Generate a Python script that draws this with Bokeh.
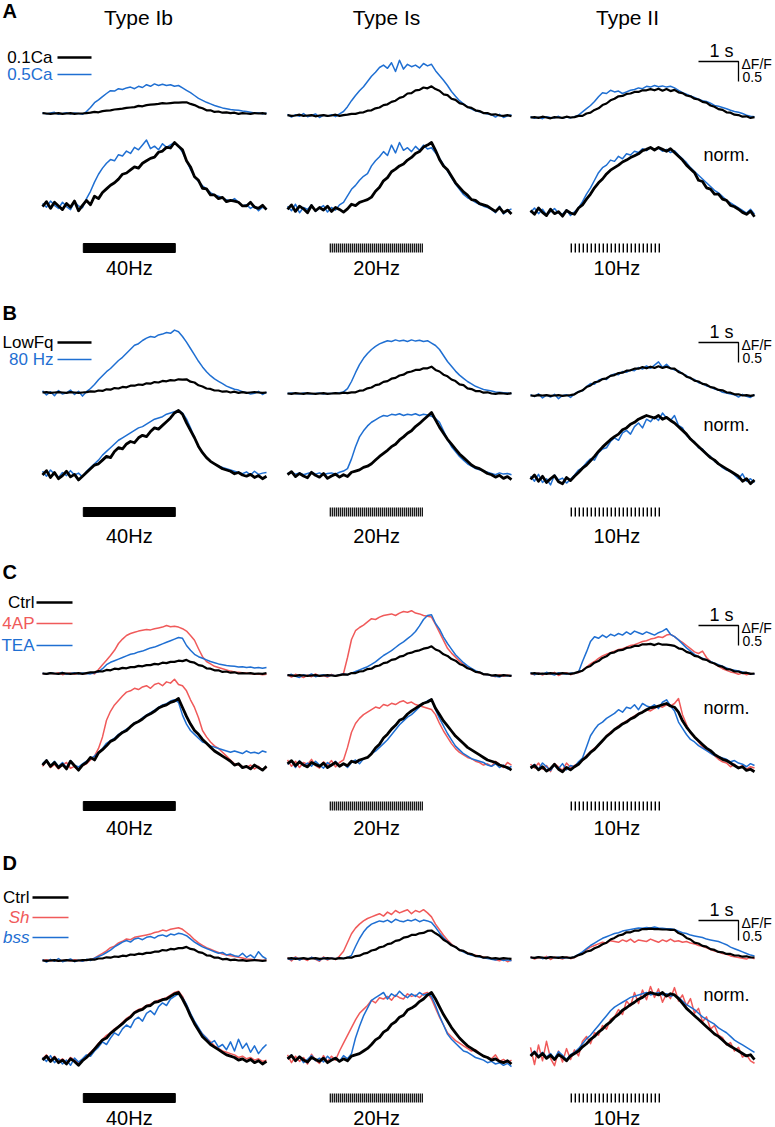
import numpy as np
from bokeh.plotting import figure
from bokeh.models import Range1d
from bokeh.core.properties import value
from bokeh.embed import file_html
from bokeh.resources import INLINE

# ------------------------------------------------------------------
# DATA  (samples every 0.1 s; raw rows in dF/F x100, norm rows in % of peak)
# ------------------------------------------------------------------
DT = 0.1
COL_NAMES = ["Type Ib", "Type Is", "Type II"]
COL_KEYS = ["Ib", "Is", "II"]
STIM_FREQ = [40, 20, 10]
STIM_LABELS = ["40Hz", "20Hz", "10Hz"]
STIM_START = [1.02, 1.07, 1.02]
STIM_DUR = [2.3, 2.32, 2.28]

A_conditions = ["0.1Ca", "0.5Ca"]
B_conditions = ["LowFq", "80 Hz"]
C_conditions = ["Ctrl", "4AP", "TEA"]
D_conditions = ["Ctrl", "Sh", "bss"]

# ---- Panel A ----
A_Ib_raw_blk = [1,0,-1,0,1,-1,0,1,-1,0,0, 1,2,4,3,6,7,8,10,11,12, 14,15,16,19,18,21,22,23,24,26, 25,26,27,27,28,28,24,21,16,13, 8,8,4,5,2,3,1,2,-1,1, 0,-1,1,0,1,-1]
A_Ib_raw_blu = [2,-1,1,3,-2,0,2,-1,1,0,-2, 5,15,27,34,42,50,57,56,62,60, 64,66,62,68,65,72,68,74,70,73, 70,72,68,70,64,58,52,45,38,33, 28,24,20,17,14,12,10,9,8,6, 5,3,1,2,-1,1]
A_Ib_nrm_blk = [-5,3,-8,2,-4,-10,0,-6,4,-12,-3, 5,-2,12,8,18,24,30,34,40,48, 50,55,60,58,66,70,74,76,84,86, 92,91,100,94,88,70,60,44,38,25, 24,14,14,8,10,3,5,4,2,-4, -4,2,-6,-8,-3,-10]
A_Ib_nrm_blu = [0,-6,4,-3,-8,2,-5,-10,3,-4,-7, 8,20,35,48,58,66,72,70,80,78, 86,82,92,88,96,104,90,94,88,98, 92,96,100,94,84,70,56,44,36,29, 24,18,14,12,9,6,4,8,2,-4, -2,-8,-4,-12,-6,-9]
A_Is_raw_blk = [1,-1,0,2,-1,0,1,-2,0,1,-1, 0,2,-1,1,2,4,4,7,8,12, 13,18,20,26,28,34,37,44,47,55, 56,63,64,70,68,73,66,62,53,51, 42,39,31,28,21,19,13,11,6,6, 2,3,0,-1,1,-2]
A_Is_raw_blu = [3,-4,2,-2,5,-3,0,4,-5,1,-2, 2,-3,4,10,22,37,50,62,72,85, 98,108,120,126,118,132,110,138,116,128, 122,126,119,130,124,128,112,100,88,75, 60,48,37,29,22,16,12,9,6,4, 2,-4,3,-5,-1,2]
A_Is_nrm_blk = [-3,4,-6,2,-2,-8,3,-5,0,-4,2, -6,0,-3,-7,-2,5,3,8,10,12, 16,25,31,41,46,55,59,64,67,73, 77,83,86,93,96,100,88,74,64,58, 48,38,31,24,19,12,11,6,4,2, -2,-6,0,-8,-4,-10]
A_Is_nrm_blu = [2,-5,5,-8,0,-3,4,-6,-1,3,-7, 0,-4,4,8,18,28,34,42,48,52, 64,72,78,86,80,96,84,100,88,92, 86,94,88,96,90,92,84,76,66,56, 46,36,28,20,15,12,8,5,2,0, -3,-8,2,-10,-5,-2]
A_II_raw_blk = [0,1,-1,2,0,-2,1,0,-1,2,0, 1,4,4,10,12,19,23,31,35,43, 47,53,54,59,60,64,64,68,68,71, 68,72,67,71,66,69,63,61,55,53, 47,45,39,37,30,27,21,19,13,12, 7,6,2,3,-1,1]
A_II_raw_blu = [2,-2,1,-3,2,0,-1,3,-2,1,-1, 2,6,14,22,30,40,52,62,60,68, 64,66,60,64,68,70,74,72,78,76, 80,77,79,76,78,74,68,62,58,54, 50,46,42,40,36,30,28,25,22,18, 15,13,10,6,3,2]
A_II_nrm_blk = [0,-6,4,-3,-8,2,-5,-2,-9,0,-4, -6,4,9,18,26,36,44,50,58,64, 68,72,77,80,84,87,90,95,97,100, 96,100,97,94,98,92,86,80,72,66, 60,48,46,36,34,26,26,18,16,8, 6,2,-3,-6,-1,-10]
A_II_nrm_blu = [-3,4,-5,2,-7,-2,3,-4,-6,1,-8, -2,4,14,26,36,48,60,68,72,80, 78,86,82,90,88,94,92,98,95,100, 96,99,94,97,92,95,88,82,76,68, 62,56,50,44,38,32,28,22,16,12, 8,4,0,-4,2,-6]

# ---- Panel B ----
B_Ib_raw_blk = [0,1,-1,0,1,0,-1,1,0,-1,0, 1,3,2,5,4,8,7,11,10,14, 13,17,17,20,19,23,22,26,25,29, 28,31,30,33,32,33,27,25,18,15, 10,9,5,5,2,3,0,2,-1,1, -1,0,1,0,-1,0]
B_Ib_raw_blu = [4,-6,2,-8,5,-4,-1,6,-5,3,-9, 2,10,20,32,42,52,60,70,80,88, 98,108,118,122,130,136,140,138,144,146, 150,148,156,152,140,126,110,94,78,64, 52,42,34,28,22,16,12,8,6,2, 0,-4,-2,3,-5,1]
B_Ib_nrm_blk = [-4,3,-8,0,-10,-5,2,-7,-3,-12,-6, 0,6,12,14,20,26,24,34,40,38, 46,50,48,56,60,58,66,72,70,76, 82,88,96,100,94,80,68,56,42,32, 24,18,14,10,6,4,2,-2,0,-4, -6,-3,-8,-5,-10,-6]
B_Ib_nrm_blu = [2,-6,4,-3,-8,0,-5,3,-4,-1,-7, 2,8,14,20,28,34,40,46,52,56, 60,64,68,72,74,78,82,86,88,90, 94,96,98,100,96,86,72,56,42,32, 24,18,14,10,8,6,4,2,0,-2, 1,-4,2,-3,-1,0]
B_Is_raw_blk = [0,-1,1,0,-1,1,0,-1,0,1,-1, 0,1,0,2,1,3,3,7,8,13, 15,21,23,29,31,37,39,45,47,53, 55,59,59,63,63,67,59,55,47,43, 35,31,23,21,13,11,6,6,2,3, 0,-1,1,0,-1,1]
B_Is_raw_blu = [0,1,0,-1,1,0,-1,0,1,-1,0, 0,1,2,4,12,30,52,72,88,100, 110,118,124,128,132,130,134,131,133,130, 134,131,133,130,132,126,120,110,95,80, 68,56,46,38,30,24,18,14,10,8, 6,4,3,2,1,0]
B_Is_nrm_blk = [-2,3,-5,0,-4,-7,2,-3,-6,0,-8, -4,-1,-6,-2,-5,2,4,6,10,12, 16,22,28,33,38,44,48,55,60,66, 70,77,82,88,94,100,88,76,66,56, 48,40,32,26,20,14,10,8,4,0, -2,-6,-3,-8,-5,-10]
B_Is_nrm_blu = [0,2,-1,1,-2,0,2,-1,1,-2,0, 1,-1,2,4,8,24,44,60,70,78, 84,88,92,95,94,97,96,98,95,97, 96,98,95,97,96,94,90,84,70,56, 44,36,28,22,16,12,8,6,4,2, 0,-2,1,-1,0,-2]
B_II_raw_blk = [0,-1,1,0,1,-1,0,1,-1,0,1, 3,9,13,21,25,33,35,41,43,49, 51,56,57,62,63,67,67,71,68,72, 69,73,69,72,68,67,59,55,47,44, 37,35,29,27,21,19,14,13,8,7, 3,3,0,1,-1,1]
B_II_raw_blu = [2,-3,4,-6,1,-4,3,-8,0,2,-5, 4,10,12,22,30,28,38,42,40,50, 54,52,60,58,64,62,70,66,74,68, 76,84,70,78,68,64,62,54,50,42, 40,32,30,24,22,16,14,8,6,4, 2,-4,3,-2,-5,2]
B_II_nrm_blk = [-3,4,-6,2,-8,-2,3,-7,-10,0,-5, 2,8,15,20,27,34,42,49,55,61, 66,70,77,80,86,89,94,97,100,98, 96,100,94,97,92,88,82,76,70,62, 56,50,44,38,32,28,22,18,14,10, 6,2,-6,-2,-10,-4]
B_II_nrm_blu = [2,-6,5,-8,-2,-12,4,-4,-1,-9,-3, 4,12,16,24,30,28,40,46,48,58, 64,60,72,76,70,82,88,80,94,90, 98,92,104,96,92,100,84,80,68,62, 58,48,46,38,34,26,22,16,12,10, 4,-2,6,-6,-2,-8]

# ---- Panel C ----
C_Ib_raw_blk = [0,-1,1,0,-1,1,0,-1,0,1,-1, 1,3,3,6,5,9,8,12,11,14, 13,16,16,19,18,21,21,24,23,27, 26,29,29,32,31,34,29,27,21,19, 13,12,8,8,4,5,2,3,0,1, 0,1,-1,0,-1,1]
C_Ib_raw_red = [0,-2,1,-1,2,-3,0,1,-2,1,-1, 0,2,-1,10,22,33,45,58,75,86, 95,100,103,106,108,110,109,112,114,116, 120,117,118,116,112,106,95,83,62,42, 30,24,18,15,12,9,6,4,3,2, 1,0,-2,-1,-3,-2]
C_Ib_raw_blu = [1,-2,2,0,-1,3,-2,0,2,-1,1, 0,-1,2,4,12,22,28,32,36,40, 44,48,50,54,56,60,64,66,70,74, 78,82,86,90,88,70,58,48,42,38, 34,30,27,24,22,20,19,18,16,17, 15,16,14,15,13,15]
C_Ib_nrm_blk = [-4,3,-6,0,-8,-3,-10,2,-5,-12,-4, 0,8,4,15,20,26,33,36,42,47, 50,56,61,64,68,73,76,80,85,88, 90,94,96,100,86,72,60,50,44,36, 30,24,18,14,10,6,2,-4,-2,-8, -6,-10,-4,-8,-12,-6]
C_Ib_nrm_red = [-6,2,-8,-3,-10,-4,0,-9,-6,-12,-5, -2,4,10,22,40,66,80,90,97,104, 110,112,116,114,118,120,116,122,124,120, 126,124,130,122,120,112,98,86,70,50, 40,32,26,22,16,10,4,-2,-4,-6, -8,-4,-10,-6,-12,-8]
C_Ib_nrm_blu = [-2,4,-5,2,-6,0,-8,3,-4,-7,-2, 2,6,10,16,22,30,34,38,44,48, 52,56,62,64,70,74,78,82,86,90, 92,96,98,94,74,60,50,44,38,32, 30,26,24,22,20,18,16,18,16,14, 18,15,16,14,18,16]
C_Is_raw_blk = [1,0,-1,1,0,-1,0,1,-1,0,1, 0,-1,1,3,2,6,6,10,11,16, 17,23,25,31,33,39,41,47,49,55, 57,61,63,67,69,73,65,61,53,49, 41,37,29,25,18,15,9,8,3,3, 0,1,-1,1,0,-1]
C_Is_raw_red = [2,-4,3,-1,-5,1,-3,4,-2,0,-4, 3,-2,1,5,45,90,112,120,126,134, 142,140,146,150,152,154,150,156,160,158, 162,156,154,150,148,146,128,108,88,68, 56,46,36,28,20,14,10,6,4,2, 0,-3,2,-2,1,-1]
C_Is_raw_blu = [0,3,-2,-5,2,-1,4,-3,0,2,-2, 1,-1,2,4,2,6,10,14,18,22, 28,34,42,50,56,62,70,78,84,92, 100,110,124,140,150,152,130,116,96,80, 66,52,42,32,24,18,12,8,4,2, 0,-2,-4,1,-1,0]
C_Is_nrm_blk = [-2,3,-5,1,-4,-7,0,-3,-6,-1,-8, -4,0,-6,-2,-5,2,0,4,6,8, 14,23,29,39,45,53,59,67,70,77, 82,86,90,94,96,100,86,76,66,58, 50,42,36,30,24,20,16,12,8,4, 2,0,-4,-6,-8,-12]
C_Is_nrm_red = [4,-6,2,-8,0,-3,5,-5,-9,1,-4, 3,-7,0,4,24,48,62,70,76,80, 84,88,86,92,90,94,92,96,98,94, 96,92,90,88,86,84,76,62,50,40, 30,22,16,12,8,6,2,0,-4,-2, -6,2,-3,-8,0,-4]
C_Is_nrm_blu = [-3,2,-8,3,-5,-1,-6,2,-4,-9,0, -5,2,-6,-2,-8,0,4,-2,6,8, 14,18,24,30,36,44,52,60,66,72, 76,82,88,94,98,100,84,70,58,46, 36,26,20,14,10,6,4,2,0,-4, -6,-2,-8,-4,-10,-6]
C_II_raw_blk = [0,1,-1,0,-1,1,0,-1,1,0,-1, 1,4,7,15,19,27,31,39,43,51, 53,58,59,64,65,69,69,73,73,74, 71,75,72,72,71,69,63,61,54,51, 44,42,36,34,28,25,19,17,11,10, 5,5,1,2,-1,0]
C_II_raw_red = [0,-3,2,-4,1,-2,3,-5,0,2,-3, 1,2,8,16,24,30,38,44,48,52, 56,60,62,66,70,72,76,80,82,86, 88,92,90,96,98,92,84,78,70,62, 54,50,56,40,30,24,18,12,8,4, 2,-2,1,-3,0,-1]
C_II_raw_blu = [2,-3,1,-2,3,-1,-4,2,0,-2,1, 0,4,30,54,80,92,88,96,90,98, 94,100,96,104,98,106,102,98,104,100, 96,102,106,112,98,92,84,74,64,56, 48,42,38,34,30,26,22,18,14,10, 8,6,4,2,0,-1]
C_II_nrm_blk = [-4,0,-7,-2,-9,-5,2,-6,-10,-3,-7, -2,2,9,14,21,26,33,40,47,52, 58,62,67,70,75,78,83,86,90,93, 94,96,98,100,96,94,86,72,62,54, 46,40,34,28,24,18,14,10,8,4, 0,-4,-2,-8,-6,-10]
C_II_nrm_red = [2,-4,4,-6,0,-10,3,-2,-8,4,-3, 0,4,8,16,22,28,32,40,48,54, 58,64,68,72,76,80,84,86,90,88, 92,96,94,98,96,100,108,82,66,52, 46,38,30,26,20,16,10,6,4,-2, 2,-4,0,-6,-2,-4]
C_II_nrm_blu = [-3,2,-6,4,-2,-8,1,-5,3,-7,0, -2,6,12,30,48,58,66,70,76,80, 84,90,86,94,92,98,90,100,96,94, 98,92,102,106,96,88,70,60,50,42, 38,32,28,24,20,16,14,12,10,6, 8,4,2,-2,3,0]

# ---- Panel D ----
D_Ib_raw_blk = [0,-1,0,1,-1,0,1,0,-1,0,1, 1,3,2,5,5,8,7,10,9,12, 11,15,14,17,16,19,19,22,22,26, 25,29,28,31,31,34,29,27,21,19, 13,12,7,7,3,4,1,2,0,1, -1,0,1,0,-1,0]
D_Ib_raw_red = [0,2,-1,1,-2,0,1,-1,2,0,-1, 1,2,6,12,18,24,32,36,44,48, 54,52,58,60,62,64,66,70,72,76, 74,78,80,82,78,70,62,52,44,38, 32,28,24,20,16,14,12,10,8,6, 4,3,2,1,0,1]
D_Ib_raw_blu = [2,-4,3,-2,5,-3,0,4,-3,1,-2, 3,0,6,10,14,20,26,34,40,46, 50,46,54,56,52,58,60,56,62,64, 60,66,64,68,66,62,54,46,40,34, 30,26,22,18,20,14,16,12,10,18, 8,14,6,22,10,4]
D_Ib_nrm_blk = [-4,2,-6,0,-8,-4,-10,-2,-6,-12,-5, 0,6,13,20,27,30,37,42,47,52, 58,62,69,72,74,79,80,85,86,89, 90,94,98,100,90,78,64,52,42,32, 26,20,16,12,8,4,2,0,-4,-2, -6,-3,-8,-5,-10,-6]
D_Ib_nrm_red = [-2,4,-4,2,-6,-2,-8,0,-4,-9,-3, 2,8,14,22,28,34,38,44,48,54, 60,64,70,74,76,80,82,86,88,90, 92,96,100,102,94,80,66,54,44,36, 30,24,18,14,10,8,6,4,0,2, -2,0,-4,-2,-6,-4]
D_Ib_nrm_blu = [0,-6,3,-8,-2,-10,-4,-12,-1,-7,-2, 4,2,10,16,24,20,30,38,34,44, 50,46,58,62,56,68,72,66,78,84, 80,90,94,98,92,82,68,56,46,36, 30,22,26,16,20,12,24,10,28,14, 22,8,18,6,14,20]
D_Is_raw_blk = [0,1,-1,0,1,-1,0,1,-1,0,1, 0,-1,1,0,2,2,6,7,12,14, 20,22,28,30,36,38,44,46,52,54, 59,59,63,64,69,70,63,57,47,41, 33,29,21,19,13,11,6,6,2,3, 0,1,-1,1,0,-1]
D_Is_raw_red = [2,-6,4,-3,0,-5,3,-2,-7,4,-4, 2,-3,6,18,40,62,76,86,94,100, 104,108,112,106,116,110,120,114,118,122, 112,120,116,122,114,104,86,72,58,46, 36,28,22,18,14,10,8,6,4,2, 0,-3,-6,-2,-8,-4]
D_Is_raw_blu = [0,-3,2,-4,1,-2,3,-1,-5,2,-2, 1,-1,2,0,3,8,30,50,66,78, 86,90,94,92,96,90,98,94,92,96, 94,98,92,96,94,90,78,64,52,42, 34,28,22,16,12,8,6,4,2,0, -2,-4,-1,-5,-3,-6]
D_Is_nrm_blk = [-2,3,-5,1,-4,-7,0,-3,-6,-1,-8, -4,-1,-6,-2,-5,2,4,6,10,14, 20,27,31,39,43,51,55,62,65,73, 76,80,86,90,96,100,90,78,66,56, 46,38,30,24,18,14,10,6,2,0, -4,-2,-6,-8,-5,-10]
D_Is_nrm_red = [4,-8,2,-6,0,-10,5,-4,-9,3,-6, 2,-4,10,22,34,46,58,68,74,80, 88,84,92,90,94,88,96,92,90,98, 94,96,92,98,100,90,76,62,50,38, 32,26,22,18,14,10,12,6,2,0, -2,4,-6,-3,-8,-4]
D_Is_nrm_blu = [-2,4,-6,2,-8,-3,3,-5,-1,-7,2, -4,0,-6,3,-2,6,30,48,64,76, 88,92,96,100,90,98,94,102,96,92, 98,94,100,96,98,94,80,64,50,36, 28,22,16,10,8,4,0,-2,-4,-8, -6,-10,-8,-12,-9,-14]
D_II_raw_blk = [0,-1,1,0,-2,1,0,-1,1,0,-1, 1,6,9,15,17,23,27,33,37,45, 49,55,57,63,63,67,67,71,71,72, 71,71,70,70,69,69,61,57,49,45, 37,35,29,27,21,19,14,13,9,9, 5,5,2,3,0,0]
D_II_raw_red = [2,-4,0,-2,3,-5,1,-1,-4,2,-3, 0,6,12,20,26,30,34,38,36,42, 40,38,44,40,46,38,44,42,40,46, 42,38,44,40,46,40,42,38,40,36, 34,30,28,24,20,16,14,10,8,4, 2,0,-2,-4,1,-3]
D_II_raw_blu = [1,-2,2,-3,0,2,-1,1,-2,0,-1, 2,8,14,22,30,36,42,48,52,56, 60,62,66,68,70,72,74,73,75,74, 76,74,73,72,72,70,66,62,60,56, 54,52,50,46,44,42,40,36,32,26, 22,18,14,10,6,4]
D_II_nrm_blk = [-4,2,-6,0,-8,-3,-10,-2,-6,-12,-4, 0,4,11,16,23,28,35,40,47,52, 59,64,71,75,80,84,89,92,97,100, 98,96,100,94,98,96,90,82,74,68, 62,56,50,44,38,32,28,22,16,12, 8,4,0,-4,-2,-10]
D_II_nrm_red = [10,-18,14,-12,20,-8,-20,4,-14,8,-10, 6,-4,20,28,16,34,30,46,40,56, 60,72,64,86,78,100,82,104,88,110, 92,106,84,98,90,108,86,96,78,90, 66,74,52,60,40,46,30,26,14,18, 4,10,-6,-2,-12,-16]
D_II_nrm_blu = [-2,4,-4,2,-6,0,-8,3,-3,-10,-2, 2,8,16,24,30,38,46,54,62,70, 76,80,84,88,92,94,96,98,100,96, 98,100,96,98,94,96,92,86,80,76, 72,66,60,56,52,48,42,38,34,28, 22,18,14,10,6,2]

# ------------------------------------------------------------------
# LAYOUT / STYLE
# ------------------------------------------------------------------
FONT = "Liberation Sans"
BLK, BLU, RED = "#000000", "#1f6fd2", "#f05a5a"
COLOR = {"blk": BLK, "blu": BLU, "red": RED}
PX_PER_S = 40.0      # 1 s scale bar
PX_PER_DFF = 40.0    # 0.5 dF/F = 20 px
X0 = [42, 287, 530]

GEOM = {
    "A": dict(letter=10, leg=[57, 74], leg_tx=52, leg_ln=(57, 91), raw=[113, 115, 117],
              nrm=[(203, 61), (207, 65), (210, 63)], stim=(243, 252), lab=267, bar=61, norm=154,
              conds=A_conditions, codes=["blk", "blu"]),
    "B": dict(letter=312, leg=[342, 359], leg_tx=53, leg_ln=(57, 91), raw=[392, 393, 395],
              nrm=[(472, 62), (473, 61), (477, 62)], stim=(507, 516), lab=535, bar=342, norm=424,
              conds=B_conditions, codes=["blk", "blu"]),
    "C": dict(letter=571, leg=[602, 623, 645], leg_tx=34, leg_ln=(36, 72), raw=[673, 675, 673],
              nrm=[(762, 64), (762, 63), (765, 62)], stim=(801, 810), lab=827, bar=625, norm=707,
              conds=C_conditions, codes=["blk", "red", "blu"]),
    "D": dict(letter=862, leg=[897, 917, 937], leg_tx=29, leg_ln=(32, 68), raw=[960, 958, 957],
              nrm=[(1057, 65), (1057, 65), (1053, 61)], stim=(1093, 1102), lab=1117, bar=920, norm=994,
              conds=D_conditions, codes=["blk", "red", "blu"]),
}

p = figure(width=775, height=1127, x_range=Range1d(0, 775), y_range=Range1d(1127, 0),
           x_axis_type=None, y_axis_type=None, toolbar_location=None, output_backend="svg",
           min_border=0, outline_line_color=None, background_fill_color="white",
           border_fill_color="white")


def txt(x, y, s, size, color=BLK, align="left", style="normal"):
    p.text(x=[x], y=[y], text=[s], text_font=value(FONT), text_font_size=value(f"{size}px"),
           text_color=color, text_align=align, text_baseline="middle", text_font_style=style)


for ci, name in enumerate(COL_NAMES):
    txt([138, 386, 627][ci], 17, name, 21, align="center")

for P, g in GEOM.items():
    txt(2, g["letter"], P, 20, style="bold")
    # legend
    for k, (cname, code) in enumerate(zip(g["conds"], g["codes"])):
        y = g["leg"][k]
        style = "italic" if cname in ("Sh", "bss") else "normal"
        txt(g["leg_tx"], y, cname, 17, COLOR[code], align="right", style=style)
        p.line(list(g["leg_ln"]), [y, y], line_color=COLOR[code],
               line_width=2.5 if code == "blk" else 1.5)
    draw_order = [c for c in g["codes"] if c != "blk"] + ["blk"]
    for ci, ck in enumerate(COL_KEYS):
        for row in ("raw", "nrm"):
            if row == "raw":
                base, scale = g["raw"][ci], PX_PER_DFF
            else:
                base, scale = g["nrm"][ci]
            for code in draw_order:
                vals = np.array(globals()[f"{P}_{ck}_{row}_{code}"], dtype=float) / 100.0
                tt = np.arange(len(vals)) * DT
                lw = (2.2 if row == "raw" else 2.8) if code == "blk" else 1.5
                p.line(X0[ci] + tt * PX_PER_S, base - vals * scale, line_color=COLOR[code],
                       line_width=lw, line_join="round")
        # stimulus
        y0, y1 = g["stim"]
        s0 = X0[ci] + STIM_START[ci] * PX_PER_S
        f = STIM_FREQ[ci]
        if f >= 40:
            p.quad(left=[s0], right=[s0 + STIM_DUR[ci] * PX_PER_S], top=[y0], bottom=[y1],
                   fill_color=BLK, line_color=BLK)
        else:
            ts = STIM_START[ci] + np.arange(int(STIM_DUR[ci] * f) + 1) / f
            xs = X0[ci] + ts * PX_PER_S
            p.segment(x0=xs, y0=[y0] * len(xs), x1=xs, y1=[y1] * len(xs), line_color=BLK,
                      line_width=1.2 if f == 20 else 1.4)
        txt(s0 + STIM_DUR[ci] * PX_PER_S / 2, g["lab"], STIM_LABELS[ci], 20, align="center")
    # scale bar
    hb = g["bar"]
    xr = 738
    p.line([xr - 1.0 * PX_PER_S, xr, xr], [hb, hb, hb + 0.5 * PX_PER_DFF], line_color=BLK,
           line_width=1.3)
    txt(721, hb - 11, "1 s", 18, align="center")
    txt(741, hb + 2, "\u0394F/F", 14)
    txt(742, hb + 15, "0.5", 14)
    txt(703, g["norm"], "norm.", 18)

open("out.html", "w").write(file_html(p, INLINE))
